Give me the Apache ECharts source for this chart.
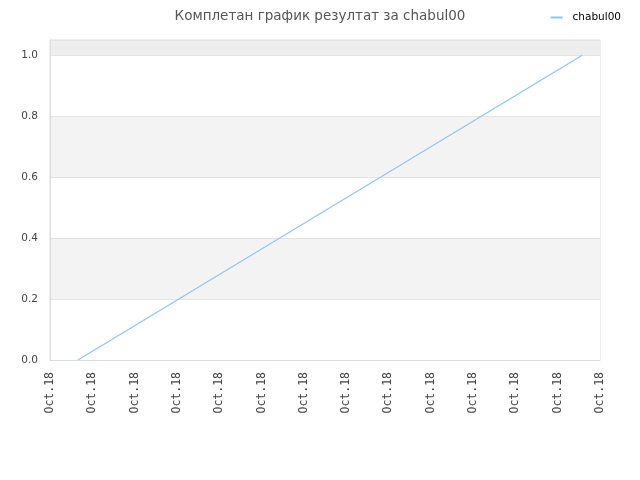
<!DOCTYPE html>
<html>
<head>
<meta charset="utf-8">
<script src="https://cdn.jsdelivr.net/npm/echarts@6/dist/echarts.min.js"></script>
<style>
  html, body { margin: 0; padding: 0; background: #fff; }
  #chart { width: 640px; height: 480px; }
</style>
</head>
<body>
<div id="chart"></div>
<script>
// data
const titleText = 'Комплетан график резултат за chabul00'
const seriesName = 'chabul00'
// x positions in tick units (0..13), y results
const xValues = [0.66, 12.58]
const yValues = [0, 1.0]
const xTickLabel = 'Oct.18'
const xMax = 13
const yMax = 1.05

const chart = echarts.init(document.getElementById('chart'))

const points = xValues.map((x, i) => [x, yValues[i]])

chart.setOption({
  animation: false,
  title: {
    text: titleText,
    left: 'center',
    top: 4,
    textStyle: {
      fontFamily: 'DejaVu Sans',
      fontSize: 13.5,
      fontWeight: 'normal',
      color: '#555',
    },
  },
  legend: {
    right: 14,
    top: 7,
    itemWidth: 12,
    itemHeight: 2,
    icon: 'rect',
    textStyle: {
      fontFamily: 'DejaVu Sans',
      fontSize: 10.5,
      color: '#000',
      padding: [0, 0, 0, 5],
    },
    data: [seriesName],
  },
  grid: {
    left: 50,
    right: 40,
    top: 40,
    bottom: 120,
    show: true,
    borderColor: '#ddd',
    borderWidth: 1,
  },
  xAxis: {
    type: 'value',
    min: 0,
    max: xMax,
    interval: 1,
    axisLine: { show: true, lineStyle: { color: '#ddd' } },
    axisTick: { show: false },
    splitLine: { show: false },
    axisLabel: {
      rotate: 90,
      margin: 12,
      formatter: () => xTickLabel,
      fontFamily: 'DejaVu Sans Mono',
      fontSize: 11.5,
      color: '#444',
    },
  },
  yAxis: {
    type: 'value',
    min: 0,
    max: yMax,
    interval: 0.2,
    axisLine: { show: true, lineStyle: { color: '#ddd' } },
    axisTick: { show: false },
    splitLine: { show: true, lineStyle: { color: '#e4e4e4' } },
    splitArea: {
      show: true,
      areaStyle: { color: ['#ffffff', '#f3f3f3', '#ffffff', '#f3f3f3', '#ffffff', '#eeeeee'] },
    },
    axisLabel: {
      margin: 12,
      formatter: v => v.toFixed(1),
      fontFamily: 'DejaVu Sans',
      fontSize: 10.5,
      color: '#444',
      showMaxLabel: false,
    },
  },
  series: [{
    name: seriesName,
    type: 'line',
    data: points,
    symbol: 'none',
    lineStyle: { width: 1.2, color: '#90c4f5' },
    itemStyle: { color: '#90c4f5' },
  }],
})
</script>
</body>
</html>
